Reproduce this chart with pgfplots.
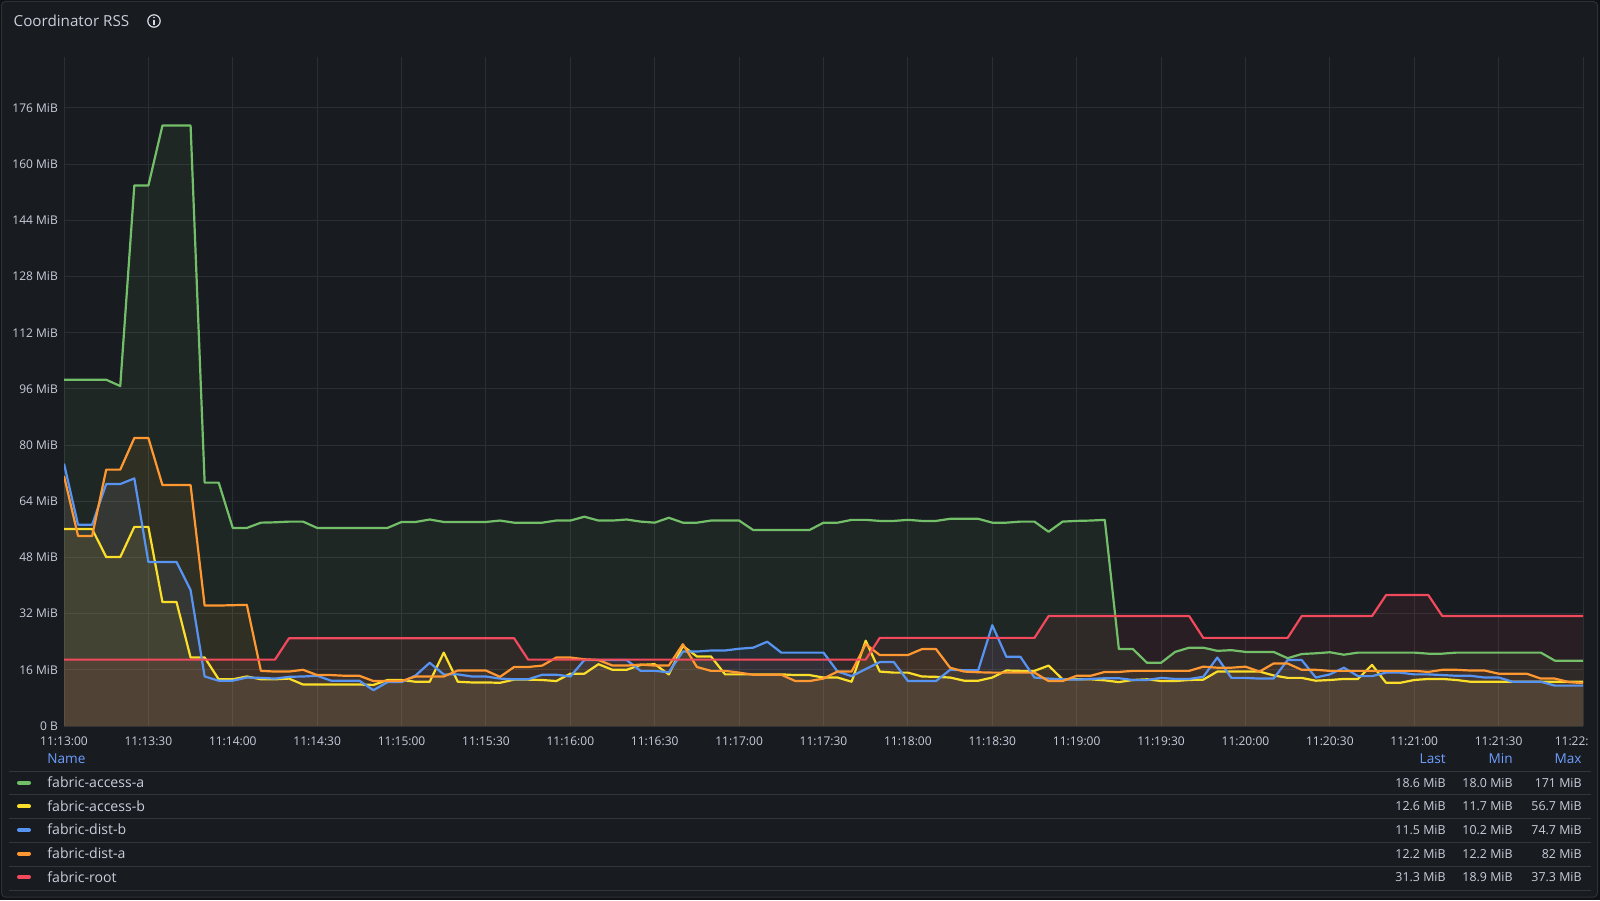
\documentclass[border=0pt]{standalone}
\usepackage{fontspec}
\setmainfont{Open Sans}
\usepackage{pgfplots}
\usepackage{pgfplotstable}
\pgfplotsset{compat=1.18}

\definecolor{canvas}{HTML}{111217}
\definecolor{panel}{HTML}{181B1F}
\definecolor{panelborder}{HTML}{2E3036}
\definecolor{gridc}{HTML}{2B2F33}
\definecolor{sepc}{HTML}{33363C}
\definecolor{txt}{HTML}{CCCCDC}
\definecolor{hdr}{HTML}{6E9FFF}
\definecolor{sgreen}{HTML}{73BF69}
\definecolor{syellow}{HTML}{FADE2A}
\definecolor{sblue}{HTML}{5794F2}
\definecolor{sorange}{HTML}{FF9830}
\definecolor{sred}{HTML}{F2495C}

\newcommand{\fs}[1]{\fontsize{#1}{#1}\selectfont}

% seconds after 11:13:00, RSS in MiB
% g = fabric-access-a, y = fabric-access-b, b = fabric-dist-b, o = fabric-dist-a, r = fabric-root
\pgfplotstableread{
t g y b o r
0 98.6 56.1 74.7 71.2 18.9
5 98.6 56.1 57.3 54.1 18.9
10 98.6 56.1 57.3 54.1 18.9
15 98.6 48.1 68.9 73.0 18.9
20 96.8 48.1 68.9 73.0 18.9
25 153.9 56.7 70.5 82.0 18.9
30 153.9 56.7 46.7 82.0 18.9
35 171.0 35.3 46.7 68.6 18.9
40 171.0 35.3 46.7 68.6 18.9
45 171.0 19.5 38.7 68.6 18.9
50 69.3 19.5 14.1 34.3 18.9
55 69.3 13.3 12.9 34.3 18.9
60 56.4 13.3 12.9 34.4 18.9
65 56.4 14.1 13.8 34.5 18.9
70 57.9 13.3 13.7 15.7 18.9
75 58.0 13.3 13.5 15.5 18.9
80 58.2 13.5 14.0 15.5 25.0
85 58.2 11.8 14.1 16.0 25.0
90 56.4 11.8 14.3 14.5 25.0
95 56.4 11.8 12.9 14.5 25.0
100 56.4 11.8 12.9 14.3 25.0
105 56.4 11.8 12.9 14.3 25.0
110 56.4 11.7 10.2 12.8 25.0
115 56.4 13.1 12.5 12.8 25.0
120 58.1 13.1 12.5 12.8 25.0
125 58.1 12.6 14.4 14.1 25.0
130 58.8 12.6 18.0 14.1 25.0
135 58.1 20.9 14.7 14.1 25.0
140 58.1 12.6 14.7 15.8 25.0
145 58.1 12.4 14.1 15.8 25.0
150 58.1 12.4 14.1 15.8 25.0
155 58.5 12.3 13.5 14.0 25.0
160 57.9 13.2 13.3 16.8 25.0
165 57.9 13.2 13.3 16.8 18.9
170 57.9 13.1 14.6 17.2 18.9
175 58.5 12.8 14.6 19.5 18.9
180 58.5 14.9 14.1 19.5 18.9
185 59.6 14.9 18.8 19.0 18.9
190 58.5 17.6 18.8 18.8 18.9
195 58.5 16.0 18.8 17.2 18.9
200 58.8 16.0 18.8 17.2 18.9
205 58.2 17.4 15.7 17.5 18.9
210 57.9 17.6 15.7 17.2 18.9
215 59.3 14.7 15.3 17.2 18.9
220 57.9 22.8 21.2 23.3 18.9
225 57.9 19.8 21.2 16.8 18.9
230 58.5 19.8 21.5 15.7 18.9
235 58.5 14.7 21.5 15.7 18.9
240 58.5 14.7 22.0 15.2 18.9
245 55.8 14.7 22.3 14.6 18.9
250 55.8 14.7 24.0 14.6 18.9
255 55.8 14.7 20.9 14.6 18.9
260 55.8 14.5 20.9 12.8 18.9
265 55.8 14.5 20.9 12.8 18.9
270 57.9 13.8 20.9 13.5 18.9
275 57.9 13.8 15.5 15.5 18.9
280 58.7 12.6 14.2 15.5 18.9
285 58.7 24.3 16.2 23.3 18.9
290 58.4 15.5 18.2 20.2 25.1
295 58.4 15.2 18.2 20.2 25.1
300 58.7 15.2 12.8 20.2 25.1
305 58.4 14.1 12.8 21.9 25.1
310 58.4 14.0 12.8 21.9 25.1
315 59.0 13.8 16.0 16.6 25.1
320 59.0 12.9 15.9 15.5 25.1
325 59.0 12.9 15.9 15.3 25.1
330 57.9 13.8 28.7 15.2 25.1
335 57.9 15.8 19.7 15.2 25.1
340 58.2 15.7 19.7 15.2 25.1
345 58.2 15.7 13.8 15.2 25.1
350 55.3 17.2 13.5 12.8 31.3
355 58.2 13.3 13.3 12.8 31.3
360 58.4 13.3 13.2 14.3 31.3
365 58.5 13.3 13.4 14.3 31.3
370 58.7 13.0 13.6 15.4 31.3
375 21.9 12.5 13.6 15.4 31.3
380 21.9 13.1 13.1 15.7 31.3
385 18.0 13.3 13.1 15.7 31.3
390 18.0 12.8 13.7 15.7 31.3
395 21.1 12.8 13.4 15.7 31.3
400 22.3 13.1 13.4 15.7 31.3
405 22.3 13.2 14.0 16.9 25.1
410 21.4 15.5 19.5 16.6 25.1
415 21.6 15.5 13.7 16.6 25.1
420 21.1 15.5 13.7 16.9 25.1
425 21.1 15.5 13.5 15.5 25.1
430 21.1 14.4 13.5 17.8 25.1
435 19.3 13.7 18.8 17.8 25.1
440 20.5 13.7 18.8 16.0 31.3
445 20.7 12.9 13.8 16.0 31.3
450 21.0 13.1 14.7 15.7 31.3
455 20.3 13.4 16.6 15.7 31.3
460 20.9 13.4 14.2 15.7 31.3
465 20.9 17.4 14.2 15.7 31.3
470 20.9 12.3 15.2 15.7 37.3
475 20.9 12.3 15.2 15.7 37.3
480 20.9 13.1 14.7 15.7 37.3
485 20.6 13.4 14.7 15.4 37.3
490 20.6 13.4 14.5 16.0 31.3
495 20.9 13.1 14.3 16.0 31.3
500 20.9 12.6 14.3 15.8 31.3
505 20.9 12.6 13.8 15.8 31.3
510 20.9 12.6 13.8 14.9 31.3
515 20.9 12.6 12.6 14.9 31.3
520 20.9 12.6 12.6 14.9 31.3
525 20.9 12.6 12.6 13.5 31.3
530 18.6 12.6 11.5 13.5 31.3
535 18.6 12.6 11.5 12.5 31.3
540 18.6 12.6 11.5 12.2 31.3
}\rss

\begin{document}
\begin{tikzpicture}
\fill[canvas] (0,0) rectangle (800pt,450pt);

% panel frame, title and legend table, in pixel units (origin top left)
\begin{scope}[x=0.5pt, y=-0.5pt, yshift=450pt]
  \filldraw[fill=panel, draw=panelborder, line width=0.5pt, rounded corners=2pt]
    (1.5,1.5) rectangle (1597.5,897);
  \node[anchor=base west, inner sep=0pt, font={\fs{7.6pt}}, text=txt] at (13.3,26.4) {Coordinator RSS};
  \draw[txt!75, line width=0.6pt] (154,21) circle (3.1pt);
  \fill[txt!75] (154,17.6) circle (0.45pt);
  \draw[txt!75, line width=0.6pt] (154,19.8) -- (154,24.6);

  % legend header
  \node[anchor=base west, inner sep=0pt, font={\fs{6.8pt}}, text=hdr] at (47,763.4) {Name};
  \node[anchor=base east, inner sep=0pt, font={\fs{6.8pt}}, text=hdr] at (1446,763.4) {Last};
  \node[anchor=base east, inner sep=0pt, font={\fs{6.8pt}}, text=hdr] at (1513,763.4) {Min};
  \node[anchor=base east, inner sep=0pt, font={\fs{6.8pt}}, text=hdr] at (1582,763.4) {Max};

  \foreach \k in {0,...,5} {
    \pgfmathsetmacro\ys{771+23.86*\k}
    \draw[sepc, line width=0.5pt] (9,\ys) -- (1591,\ys);
  }

  \foreach \c/\n/\la/\mi/\ma [count=\k from 0] in {
      sgreen/fabric-access-a/18.6 MiB/18.0 MiB/171 MiB,
      syellow/fabric-access-b/12.6 MiB/11.7 MiB/56.7 MiB,
      sblue/fabric-dist-b/11.5 MiB/10.2 MiB/74.7 MiB,
      sorange/fabric-dist-a/12.2 MiB/12.2 MiB/82 MiB,
      sred/fabric-root/31.3 MiB/18.9 MiB/37.3 MiB} {
    \pgfmathsetmacro\yc{782.7+23.65*\k}
    \draw[\c, line width=2pt, line cap=round] (19,\yc) -- (29,\yc);
    \node[anchor=base west, inner sep=0pt, font={\fs{7.05pt}}, text=txt] at (47,\yc+4.7) {\n};
    \node[anchor=base east, inner sep=0pt, font={\fs{6.2pt}}, text=txt] at (1446,\yc+4.4) {\la};
    \node[anchor=base east, inner sep=0pt, font={\fs{6.2pt}}, text=txt] at (1513,\yc+4.4) {\mi};
    \node[anchor=base east, inner sep=0pt, font={\fs{6.2pt}}, text=txt] at (1582,\yc+4.4) {\ma};
  }
\end{scope}

\begin{axis}[
    at={(32pt,87pt)}, anchor=south west,
    scale only axis,
    width=759.5pt, height=334.5pt,
    xmin=0, xmax=540, ymin=0, ymax=190.5,
    axis line style={draw=none},
    tick style={draw=none},
    major tick length=0pt,
    grid=major,
    major grid style={gridc, line width=0.5pt},
    xtick={0,30,...,510},
    xticklabels={11:13:00,11:13:30,11:14:00,11:14:30,11:15:00,11:15:30,11:16:00,
                 11:16:30,11:17:00,11:17:30,11:18:00,11:18:30,11:19:00,11:19:30,
                 11:20:00,11:20:30,11:21:00,11:21:30},
    % the last time label is cut by the panel edge in the original
    extra x ticks={540},
    extra x tick labels={11:22:},
    extra x tick style={grid=major, xticklabel style={anchor=base east, xshift=3pt}},
    ytick={0,16,...,176},
    yticklabels={0 B,16 MiB,32 MiB,48 MiB,64 MiB,80 MiB,96 MiB,112 MiB,128 MiB,
                 144 MiB,160 MiB,176 MiB},
    xticklabel style={font={\fs{6pt}}, text=txt, anchor=base, inner sep=0pt, yshift=-9.6pt},
    yticklabel style={font={\fs{6pt}}, text=txt, anchor=east, inner sep=0pt, xshift=-2.9pt},
]
% translucent areas under each series
\addplot[draw=none, fill=sgreen, fill opacity=0.08] table[x=t, y=g] {\rss} \closedcycle;
\addplot[draw=none, fill=syellow, fill opacity=0.08] table[x=t, y=y] {\rss} \closedcycle;
\addplot[draw=none, fill=sblue, fill opacity=0.08] table[x=t, y=b] {\rss} \closedcycle;
\addplot[draw=none, fill=sorange, fill opacity=0.08] table[x=t, y=o] {\rss} \closedcycle;
\addplot[draw=none, fill=sred, fill opacity=0.08] table[x=t, y=r] {\rss} \closedcycle;
% lines
\addplot[sgreen, line width=1.1pt, line join=round] table[x=t, y=g] {\rss};
\addplot[syellow, line width=1.1pt, line join=round] table[x=t, y=y] {\rss};
\addplot[sblue, line width=1.1pt, line join=round] table[x=t, y=b] {\rss};
\addplot[sorange, line width=1.1pt, line join=round] table[x=t, y=o] {\rss};
\addplot[sred, line width=1.1pt, line join=round] table[x=t, y=r] {\rss};
\end{axis}

\pgfresetboundingbox
\useasboundingbox (0,0) rectangle (800pt,450pt);
\end{tikzpicture}
\end{document}
